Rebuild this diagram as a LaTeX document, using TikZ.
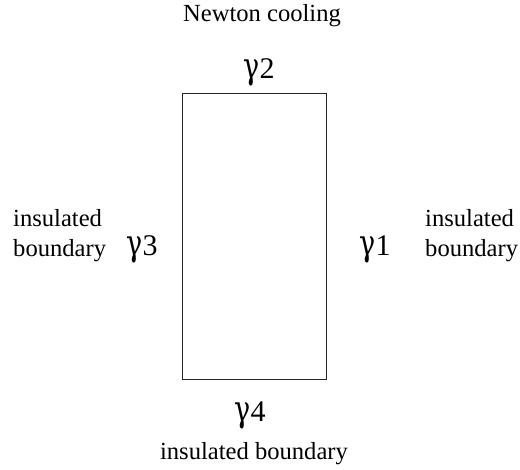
\documentclass[tikz,border=0pt]{standalone}
\usepackage{fontspec}
\setmainfont{Liberation Serif}
\newfontfamily\gammafont{DejaVu Serif}
\newcommand{\gmark}{{\gammafont\scalebox{0.9}[1.2]{γ}}}
\begin{document}
\begin{tikzpicture}[x=1pt,y=-1pt,
  txt/.style={inner sep=0pt,font=\fontsize{24.6}{30}\selectfont},
  gam/.style={inner sep=0pt,anchor=base,font=\fontsize{30}{36}\selectfont},
  region/.style={draw=black!85,line width=0.9pt}]
\useasboundingbox (0,0) rectangle (520,470);
\node[region,minimum width=144pt,minimum height=286pt,inner sep=0pt] (rect) at (254,236) {};
\node[txt,anchor=base] (top) at (262,21.7) {Newton cooling};
\node[txt,anchor=base] (bottom) at (254,460) {insulated boundary};
\node[txt,anchor=base west] (l1) at (13,227) {insulated};
\node[txt,anchor=base west] (l2) at (13,257) {boundary};
\node[txt,anchor=base west] (r1) at (425,227) {insulated};
\node[txt,anchor=base west] (r2) at (425,257) {boundary};
\node[gam] (g2) at (259,79) {\gmark2};
\node[gam] (g4) at (250,422) {\gmark4};
\node[gam] (g3) at (142,256) {\gmark3};
\node[gam] (g1) at (375,256) {\gmark1};
\end{tikzpicture}
\end{document}
